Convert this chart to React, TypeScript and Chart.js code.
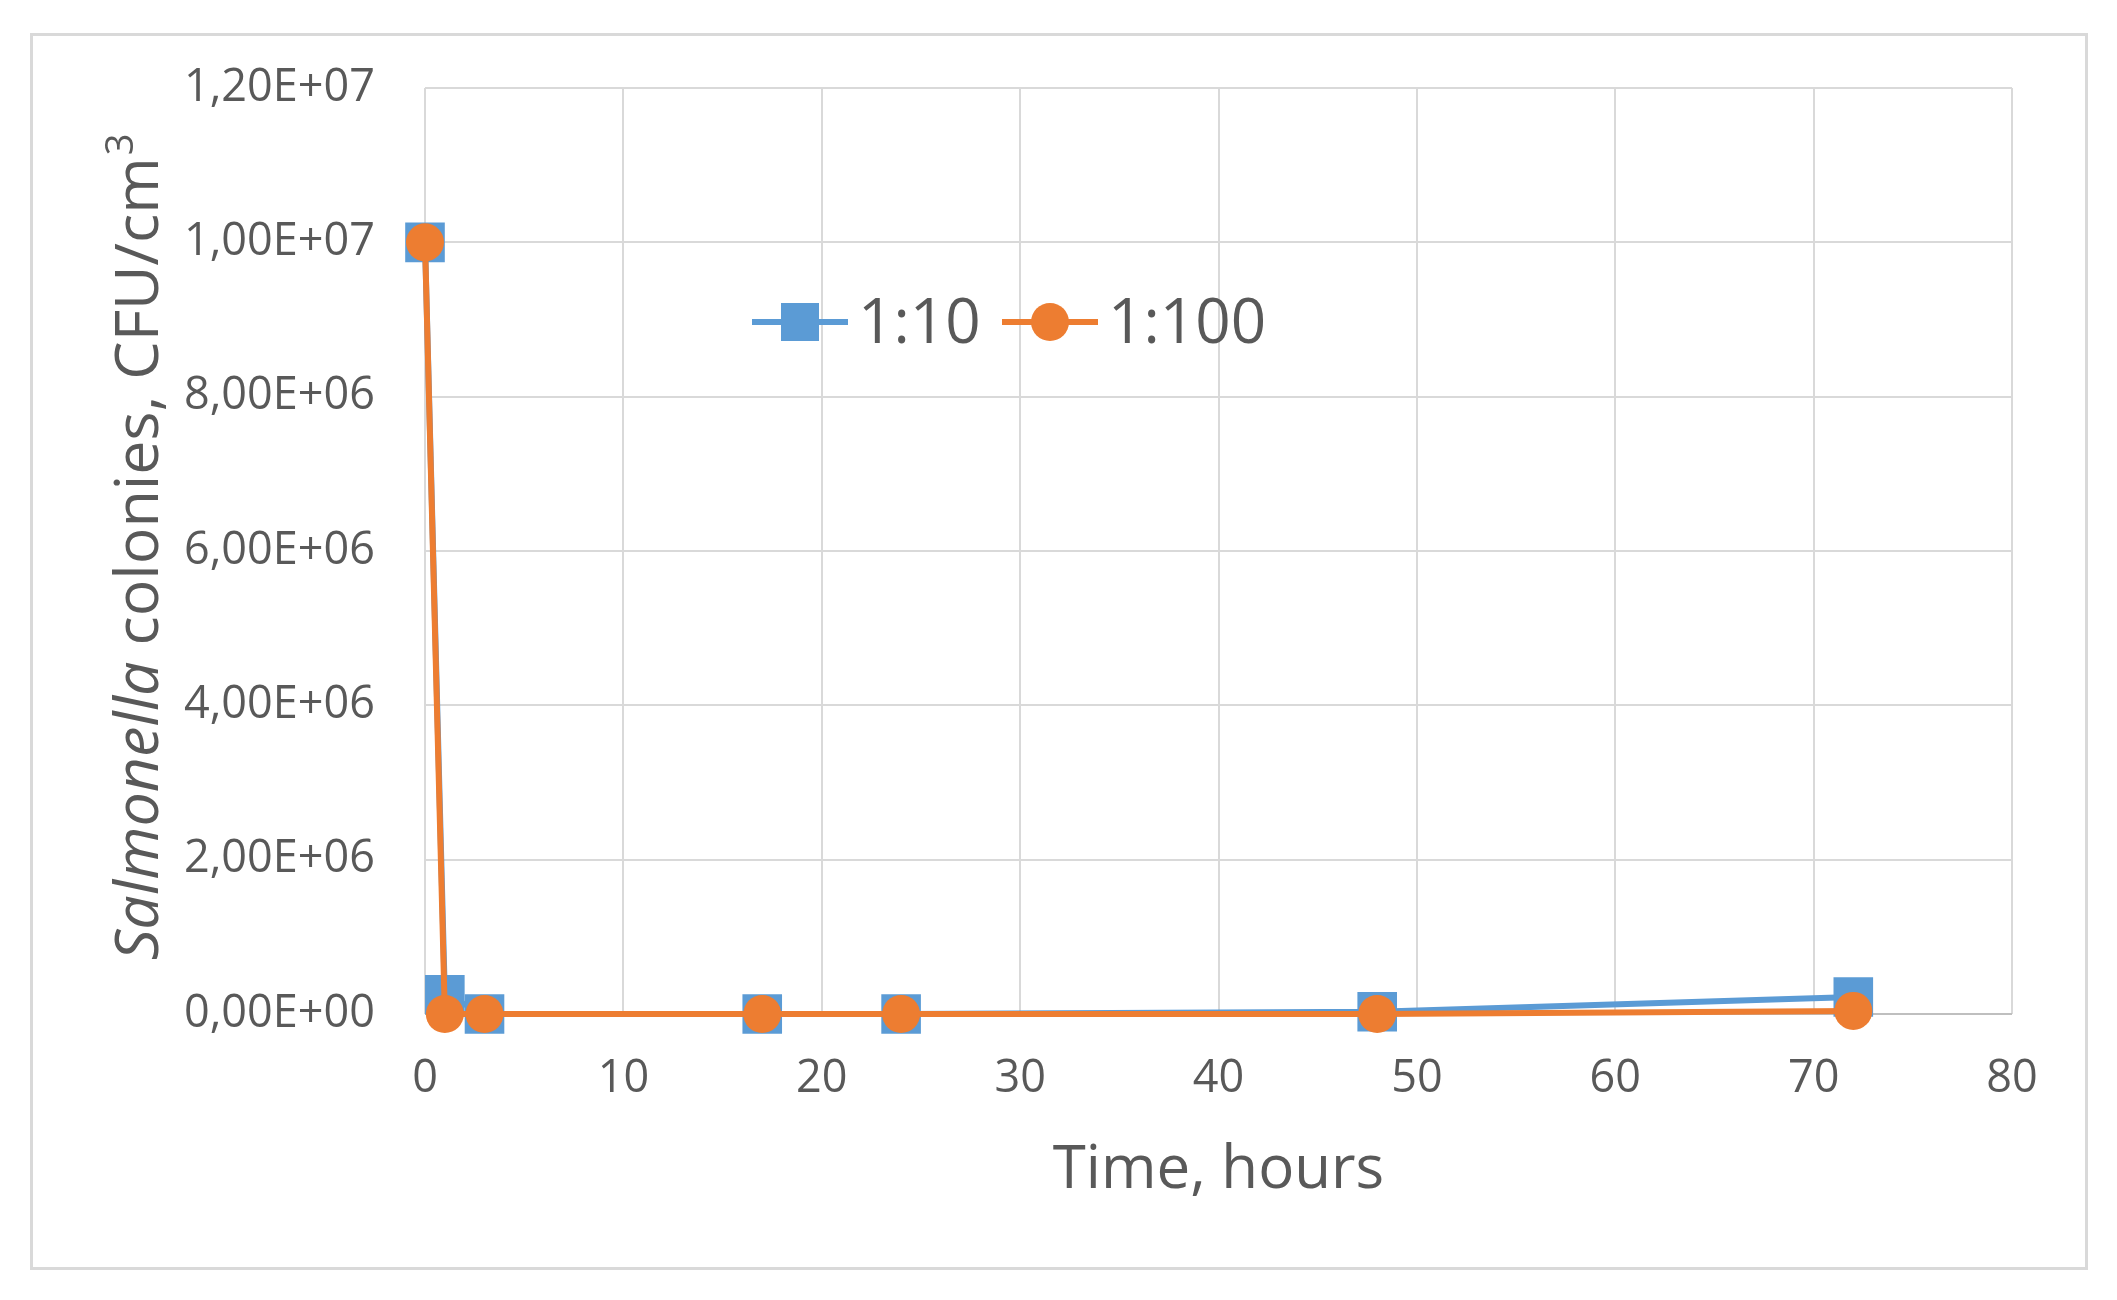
import React, { useEffect, useRef } from 'react';
import { Chart, registerables } from 'chart.js';

Chart.register(...registerables);

const hours = [0, 1, 3, 17, 24, 48, 72];
const ratio10 = [1e7, 2.5e5, 0, 0, 0, 3e4, 2.2e5];
const ratio100 = [1e7, 0, 0, 0, 0, 0, 4e4];
const seriesLabels = ['1:10', '1:100'];
const seriesColors = ['#5B9BD5', '#ED7D31'];
const xTitle = 'Time, hours';
const yTitleItalic = 'Salmonella';
const yTitleRest = ' colonies, CFU/cm';
const yTitleSup = '3';

const TEXT = '#595959';
const FONT = '"Open Sans", "DejaVu Sans", sans-serif';

function fmtSci(v: number): string {
  if (v === 0) return '0,00E+00';
  const [m, e] = v.toExponential(2).split('e');
  const n = parseInt(e, 10);
  return m.replace('.', ',') + 'E' + (n < 0 ? '-' : '+') + String(Math.abs(n)).padStart(2, '0');
}

const decorPlugin = {
  id: 'decor',
  afterDraw(chart: any) {
    const ctx = chart.ctx as CanvasRenderingContext2D;
    const ca = chart.chartArea;
    ctx.save();
    ctx.fillStyle = TEXT;

    // X title
    ctx.font = `60px ${FONT}`;
    ctx.textAlign = 'center';
    ctx.textBaseline = 'alphabetic';
    ctx.fillText(xTitle, (ca.left + ca.right) / 2, 1188);

    // Y title (rotated, mixed styles)
    ctx.save();
    ctx.translate(158, 548);
    ctx.rotate(-Math.PI / 2);
    const fItal = `italic 61px ${FONT}`;
    const fNorm = `61px ${FONT}`;
    const fSup = `38px ${FONT}`;
    ctx.font = fItal;
    const w1 = ctx.measureText(yTitleItalic).width;
    ctx.font = fNorm;
    const w2 = ctx.measureText(yTitleRest).width;
    ctx.font = fSup;
    const w3 = ctx.measureText(yTitleSup).width;
    let x = -(w1 + w2 + w3) / 2;
    ctx.textAlign = 'left';
    ctx.font = fItal;
    ctx.fillText(yTitleItalic, x, 0);
    x += w1;
    ctx.font = fNorm;
    ctx.fillText(yTitleRest, x, 0);
    x += w2;
    ctx.font = fSup;
    ctx.fillText(yTitleSup, x + 2, -25);
    ctx.restore();

    // Legend
    const legendY = 322;
    const items = [
      { x0: 752, label: seriesLabels[0], color: seriesColors[0], shape: 'rect' },
      { x0: 1002, label: seriesLabels[1], color: seriesColors[1], shape: 'circle' },
    ];
    items.forEach((it) => {
      ctx.strokeStyle = it.color;
      ctx.fillStyle = it.color;
      ctx.lineWidth = 6;
      ctx.beginPath();
      ctx.moveTo(it.x0, legendY);
      ctx.lineTo(it.x0 + 96, legendY);
      ctx.stroke();
      const cx = it.x0 + 48;
      if (it.shape === 'rect') {
        ctx.fillRect(cx - 19, legendY - 19, 38, 38);
      } else {
        ctx.beginPath();
        ctx.arc(cx, legendY, 19, 0, Math.PI * 2);
        ctx.fill();
      }
      ctx.fillStyle = TEXT;
      ctx.font = `62px ${FONT}`;
      ctx.textAlign = 'left';
      ctx.textBaseline = 'alphabetic';
      ctx.fillText(it.label, it.x0 + 106, 343);
    });
    ctx.restore();
  },
};

export default function App() {
  const ref = useRef<HTMLCanvasElement | null>(null);

  useEffect(() => {
    if (!ref.current) return;
    const chart = new Chart(ref.current, {
      type: 'line',
      data: {
        datasets: [
          {
            label: seriesLabels[0],
            data: hours.map((h, i) => ({ x: h, y: ratio10[i] })),
            borderColor: seriesColors[0],
            backgroundColor: seriesColors[0],
            borderWidth: 6,
            pointStyle: 'rect',
            pointRadius: 28,
            pointBorderWidth: 0,
            pointHoverRadius: 28,
            clip: false,
            order: 1,
          },
          {
            label: seriesLabels[1],
            data: hours.map((h, i) => ({ x: h, y: ratio100[i] })),
            borderColor: seriesColors[1],
            backgroundColor: seriesColors[1],
            borderWidth: 6,
            pointStyle: 'circle',
            pointRadius: 19,
            pointBorderWidth: 0,
            pointHoverRadius: 19,
            clip: false,
            order: 0,
          },
        ],
      },
      options: {
        animation: false,
        responsive: false,
        maintainAspectRatio: false,
        layout: { padding: { left: 0, top: 88, right: 105, bottom: 0 } },
        plugins: {
          legend: { display: false },
          tooltip: { enabled: false },
          title: { display: false },
        },
        scales: {
          x: {
            type: 'linear',
            min: 0,
            max: 80,
            border: { display: false },
            grid: {
              color: '#d9d9d9',
              lineWidth: 2,
              drawTicks: false,
            },
            ticks: {
              stepSize: 10,
              padding: 38,
              color: TEXT,
              font: { family: FONT, size: 45 },
            },
            afterFit: (s: any) => {
              s.height = 286;
            },
          },
          y: {
            type: 'linear',
            min: 0,
            max: 1.2e7,
            border: { display: false },
            grid: {
              color: (c: any) => (c.tick && c.tick.value === 0 ? '#bfbfbf' : '#d9d9d9'),
              lineWidth: 2,
              drawTicks: false,
            },
            ticks: {
              stepSize: 2e6,
              padding: 50,
              color: TEXT,
              font: { family: FONT, size: 45 },
              callback: (v: any) => fmtSci(Number(v)),
            },
            afterFit: (s: any) => {
              s.width = 425;
            },
          },
        },
      },
      plugins: [decorPlugin],
    });
    return () => chart.destroy();
  }, []);

  return (
    <div style={{ position: 'absolute', left: 0, top: 0, width: 2117, height: 1300, background: '#fff' }}>
      <div
        style={{
          position: 'absolute',
          left: 30,
          top: 33,
          width: 2058,
          height: 1237,
          boxSizing: 'border-box',
          border: '3px solid #d9d9d9',
        }}
      />
      <canvas
        ref={ref}
        width={2117}
        height={1300}
        style={{ position: 'absolute', left: 0, top: 0, width: 2117, height: 1300 }}
      />
    </div>
  );
}
